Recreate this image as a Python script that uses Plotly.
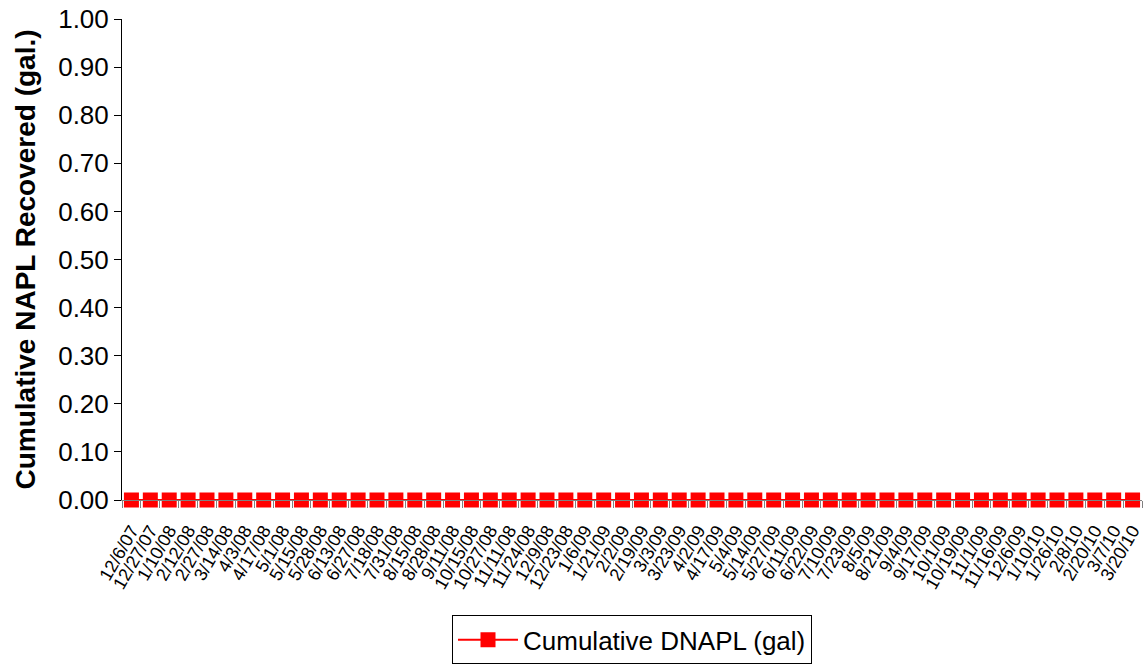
import plotly.graph_objects as go

dates = ["12/6/07", "12/27/07", "1/10/08", "2/12/08", "2/27/08", "3/14/08", "4/3/08", "4/17/08",
         "5/1/08", "5/15/08", "5/28/08", "6/13/08", "6/27/08", "7/18/08", "7/31/08", "8/15/08",
         "8/28/08", "9/11/08", "10/15/08", "10/27/08", "11/11/08", "11/24/08", "12/9/08", "12/23/08",
         "1/6/09", "1/21/09", "2/2/09", "2/19/09", "3/3/09", "3/23/09", "4/2/09", "4/17/09",
         "5/4/09", "5/14/09", "5/27/09", "6/11/09", "6/22/09", "7/10/09", "7/23/09", "8/5/09",
         "8/21/09", "9/4/09", "9/17/09", "10/1/09", "10/19/09", "11/1/09", "11/16/09", "12/6/09",
         "1/10/10", "1/26/10", "2/8/10", "2/20/10", "3/7/10", "3/20/10"]
cumulative_dnapl = [0.0] * len(dates)

y_ticks = [0.0, 0.1, 0.2, 0.3, 0.4, 0.5, 0.6, 0.7, 0.8, 0.9, 1.0]

FONT = "Liberation Sans, Arial, sans-serif"

fig = go.Figure()
fig.add_trace(go.Scatter(
    x=dates, y=cumulative_dnapl, mode="lines+markers",
    name="Cumulative DNAPL (gal)",
    line=dict(color="#FF0000", width=2),
    marker=dict(symbol="square", size=15, color="#FF0000"),
    cliponaxis=False,
))

fig.update_layout(
    width=1147, height=666,
    paper_bgcolor="white", plot_bgcolor="white",
    margin=dict(l=122, r=5, t=19, b=166, autoexpand=False),
    font=dict(family=FONT, color="black"),
    showlegend=True,
    legend=dict(
        x=0.5, xanchor="center", y=-0.24, yanchor="top",
        bordercolor="black", borderwidth=1,
        font=dict(size=26, family=FONT),
        itemwidth=60,
    ),
    xaxis=dict(
        type="category", categoryorder="array", categoryarray=dates,
        range=[-0.5, len(dates) - 0.5],
        tickmode="array", tickvals=dates, ticktext=dates,
        tickangle=-60, tickfont=dict(size=18, family=FONT),
        showline=True, linecolor="#808080", linewidth=1,
        ticks="outside", tickson="boundaries", ticklen=7, tickcolor="#808080",
        ticklabelstandoff=12,
        showgrid=False, zeroline=False, automargin=False,
    ),
    yaxis=dict(
        range=[0, 1], tickmode="array", tickvals=y_ticks,
        tickformat=".2f", tickfont=dict(size=26, family=FONT),
        showline=True, linecolor="black", linewidth=1,
        ticks="outside", ticklen=7, tickcolor="black",
        showgrid=False, zeroline=False, automargin=False,
        title=dict(text="<b>Cumulative NAPL Recovered (gal.)</b>",
                   font=dict(size=28, family=FONT), standoff=14),
    ),
    yaxis2=dict(
        range=[0, 1], overlaying="y", side="left", anchor="x",
        tickmode="array", tickvals=y_ticks, showticklabels=False,
        ticks="inside", ticklen=7, tickcolor="black",
        showgrid=False, zeroline=False, showline=False,
    ),
)

fig.write_html("out.html", config={"displayModeBar": False},
               post_script="document.body.style.margin='0';")
